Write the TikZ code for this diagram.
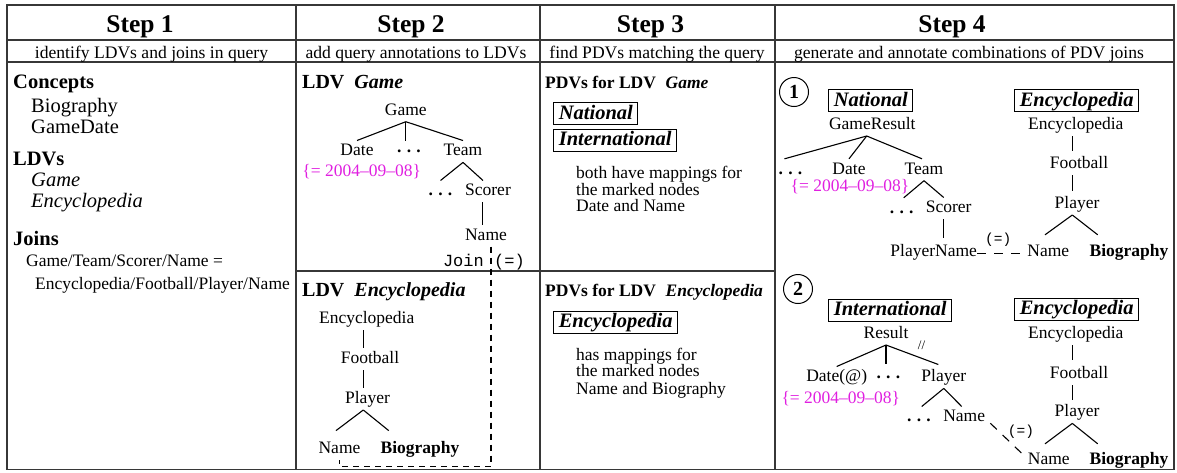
\documentclass[tikz,border=0pt]{standalone}
\usepackage{fontspec}
\setmainfont{Liberation Serif}
\setmonofont{Liberation Mono}
\usetikzlibrary{calc}
\definecolor{annot}{RGB}{224,32,224}
\definecolor{rulegray}{RGB}{55,55,55}
\newcommand{\sizept}[1]{\fontsize{#1}{#1}\selectfont}
\newcommand{\datefix}{\{= 2004\textendash 09\textendash 08\}}
\newcommand{\lowdots}{\textbf{.\hspace{0.3em}.\hspace{0.3em}.}}
\newcommand{\middots}{\raisebox{0.2em}{\lowdots}}

\begin{document}
\begin{tikzpicture}[x=1pt,y=-1pt,
  grid/.style={draw=rulegray, line width=1.3pt},
  title/.style={font=\sizept{25.5}\bfseries, anchor=base, inner sep=0pt},
  sub/.style={font=\sizept{17.6}, anchor=base, inner sep=0pt},
  big/.style={font=\sizept{20.5}, anchor=base west, inner sep=0pt},
  txt/.style={font=\sizept{17.5}, anchor=base west, inner sep=0pt},
  tn/.style={font=\sizept{17.5}, anchor=base, inner xsep=0pt, inner ysep=2pt,
             text height=13pt, text depth=4.5pt},
  tnb/.style={tn, font=\sizept{17.5}\bfseries},
  ann/.style={font=\sizept{17.5}, text=annot, anchor=base, inner sep=0pt},
  pdv/.style={draw=black, line width=1pt, font=\sizept{20.5}\bfseries\itshape,
              inner xsep=5pt, inner ysep=2.5pt, text height=14pt, text depth=3pt, anchor=west},
  num/.style={circle, draw=black, line width=1pt, minimum size=29pt, inner sep=0pt,
              font=\sizept{20}\bfseries},
  edge/.style={line width=1.1pt},
  joinline/.style={line width=1.1pt, dash pattern=on 6pt off 5pt},
  joinlink/.style={line width=1.1pt, dash pattern=on 9pt off 8pt},
  eqlbl/.style={font=\ttfamily\sizept{14.5}, inner sep=0pt},
  mono/.style={font=\ttfamily\sizept{17}, inner sep=0pt},
]
\useasboundingbox (0,0) rectangle (1177,472);

% table frame
\draw[grid] (7,5) rectangle (1174,469.5);
\draw[grid] (7,40) -- (1174,40);
\draw[grid] (7,62) -- (1174,62);
\draw[grid] (296,5) -- (296,469.5);
\draw[grid] (540,5) -- (540,469.5);
\draw[grid] (775,5) -- (775,469.5);
\draw[grid] (296,271) -- (775,271);

% column heads
\node[title] (t1) at (140,32) {Step 1};
\node[title] (t2) at (411,32) {Step 2};
\node[title] (t3) at (650.5,32) {Step 3};
\node[title] (t4) at (952,32) {Step 4};
\node[sub] (u1) at (151.5,58.5) {identify LDVs and joins in query};
\node[sub] (u2) at (416,58.5) {add query annotations to LDVs};
\node[sub] (u3) at (657,58.5) {find PDVs matching the query};
\node[sub] (u4) at (969,58.5) {generate and annotate combinations of PDV joins};

% Step 1
\node[big, font=\sizept{20.5}\bfseries] (c1h) at (13,88) {Concepts};
\node[big] (c1a) at (31,112) {Biography};
\node[big] (c1b) at (31,133) {GameDate};
\node[big, font=\sizept{20.5}\bfseries] (l1h) at (13,165) {LDVs};
\node[big, font=\sizept{20.5}\itshape] (l1a) at (31,186) {Game};
\node[big, font=\sizept{20.5}\itshape] (l1b) at (31,207.5) {Encyclopedia};
\node[big, font=\sizept{20.5}\bfseries] (j1h) at (13,245) {Joins};
\node[txt] (j1a) at (26,266.7) {Game/Team/Scorer/Name =};
\node[txt] (j1b) at (35,289) {Encyclopedia/Football/Player/Name};

% Step 2: LDV Game
\node[big, font=\sizept{20}\bfseries] (h2a) at (302,88) {LDV\hspace{0.5em}\textit{Game}};
\node[tn] (g2game) at (405.8,115) {Game};
\node[tn] (g2date) at (357,155.7) {Date};
\node[tn] (g2dots) at (409,155.7) {\middots};
\node[tn] (g2team) at (463,155.7) {Team};
\node[ann] (g2ann) at (361.7,176.7) {\datefix};
\node[tn] (g2dots2) at (440.5,195.7) {\lowdots};
\node[tn] (g2scorer) at (488,195.7) {Scorer};
\node[tn] (g2name) at (486,240) {Name};
\draw[edge] (g2game.south) -- (g2date.north);
\draw[edge] (g2game.south) -- (g2game.south |- g2dots.north);
\draw[edge] (g2game.south) -- (g2team.north);
\draw[edge] (g2team.south) -- (g2dots2.north);
\draw[edge] (g2team.south) -- ([xshift=-5pt]g2scorer.north);
\draw[edge] ([xshift=-5.3pt]g2scorer.south) -- ([xshift=-5.3pt]g2scorer.south |- g2name.north);

% Step 2: LDV Encyclopedia
\node[big, font=\sizept{20}\bfseries] (h2b) at (302,296.7) {LDV\hspace{0.5em}\textit{Encyclopedia}};
\node[tn] (e2enc) at (366.7,323.3) {Encyclopedia};
\node[tn] (e2foot) at (370,363.3) {Football};
\node[tn] (e2play) at (367.5,403.3) {Player};
\node[tn] (e2name) at (339.5,453.3) {Name};
\node[tnb] (e2bio) at (420,453.3) {Biography};
\draw[edge] ([xshift=-3.4pt]e2enc.south) -- ([xshift=-3.4pt]e2enc.south |- e2foot.north);
\draw[edge] ([xshift=-6.7pt]e2foot.south) -- ([xshift=-6.7pt]e2foot.south |- e2play.north);
\draw[edge] ([xshift=-4.2pt]e2play.south) -- ([xshift=-3.5pt,yshift=7.5pt]e2name.north);
\draw[edge] ([xshift=-4.2pt]e2play.south) -- ([xshift=8.3pt,yshift=7.5pt]e2bio.north west);

% join between the two LDVs
\node[mono, anchor=base east] (joinlbl) at (484,266.5) {Join};
\node[mono, anchor=base west] (joineq) at (494,266.5) {(=)};
\draw[joinline] ([xshift=5pt]g2name.south) |- ([yshift=-6.5pt]e2name.south) -- (e2name.south);

% Step 3
\node[txt, font=\sizept{17.5}\bfseries] (h3a) at (545,88.3) {PDVs for LDV\hspace{0.55em}\textit{Game}};
\node[pdv] (p3nat) at (553.3,113.5) {National};
\node[pdv] (p3int) at (553.3,140) {International};
\node[txt] (d3a) at (576,178.3) {both have mappings for};
\node[txt] (d3b) at (576,195) {the marked nodes};
\node[txt] (d3c) at (576,211.7) {Date and Name};
\node[txt, font=\sizept{17.5}\bfseries] (h3b) at (545,296.7) {PDVs for LDV\hspace{0.55em}\textit{Encyclopedia}};
\node[pdv] (p3enc) at (553.3,322.2) {Encyclopedia};
\node[txt] (d3d) at (576,360) {has mappings for};
\node[txt] (d3e) at (576,376.7) {the marked nodes};
\node[txt] (d3f) at (576,394.3) {Name and Biography};

% Step 4, combination 1
\node[num] (n1) at (794,92) {1};
\node[pdv] (p1nat) at (828.3,100.5) {National};
\node[pdv] (p1enc) at (1014.3,100.5) {Encyclopedia};
\node[tn] (s1gr) at (872.3,129.3) {GameResult};
\node[tn] (s1dots) at (790.5,174) {\lowdots};
\node[tn] (s1date) at (849,174) {Date};
\node[tn] (s1team) at (924,174) {Team};
\node[ann] (s1ann) at (850,191.7) {\datefix};
\node[tn] (s1dots2) at (901.7,213) {\lowdots};
\node[tn] (s1scorer) at (948.7,212.7) {Scorer};
\node[tn] (s1pname) at (933.7,256.7) {PlayerName};
\draw[edge] ([xshift=-5.6pt]s1gr.south) -- ([xshift=-6pt]s1dots.north);
\draw[edge] ([xshift=-5.6pt]s1gr.south) -- (s1date.north);
\draw[edge] ([xshift=-5.6pt]s1gr.south) -- ([xshift=-2pt]s1team.north);
\draw[edge] (s1team.south) -- ([xshift=2pt]s1dots2.north);
\draw[edge] (s1team.south) -- ([xshift=-5pt]s1scorer.north);
\draw[edge] ([xshift=-5.4pt]s1scorer.south) -- ([xshift=-5.4pt,yshift=4pt]s1scorer.south |- s1pname.north);

\node[tn] (s1enc) at (1075.8,129.3) {Encyclopedia};
\node[tn] (s1foot) at (1079,168.3) {Football};
\node[tn] (s1play) at (1077,208.3) {Player};
\node[tn] (s1name) at (1048.3,256.7) {Name};
\node[tnb] (s1bio) at (1129,256.7) {Biography};
\draw[edge] ([xshift=-3.5pt]s1enc.south) -- ([xshift=-3.5pt,yshift=2pt]s1enc.south |- s1foot.north);
\draw[edge] ([xshift=-6.7pt]s1foot.south) -- ([xshift=-6.7pt,yshift=2pt]s1foot.south |- s1play.north);
\draw[edge] ([xshift=-4.7pt]s1play.south) -- ([xshift=-3.3pt,yshift=6.7pt]s1name.north);
\draw[edge] ([xshift=-4.7pt]s1play.south) -- ([xshift=8.3pt,yshift=6.7pt]s1bio.north west);
\draw[joinlink] ([yshift=3.5pt]s1pname.base east) --
  node[eqlbl, xshift=-4pt, yshift=13pt] (s1eq) {(=)} ([yshift=3.5pt]s1name.base west);

% Step 4, combination 2
\node[num] (n2) at (798,289) {2};
\node[pdv] (p2int) at (828.3,310) {International};
\node[pdv] (p2enc) at (1014.3,309.2) {Encyclopedia};
\node[tn] (s2res) at (886,338.3) {Result};
\node[tn] (s2date) at (836.7,381.7) {Date(@)};
\node[tn] (s2dots) at (888.3,381.7) {\middots};
\node[tn] (s2play) at (943.8,381.7) {Player};
\node[ann] (s2ann) at (840.8,403.3) {\datefix};
\node[tn] (s2dots2) at (919,421.7) {\lowdots};
\node[tn] (s2pname) at (964.2,421.7) {Name};
\draw[edge] (s2res.south) -- (s2date.north);
\draw[edge] (s2res.south) -- ([yshift=3pt]s2res.south |- s2dots.north);
\draw[edge] (s2res.south) -- node[pos=0.68, yshift=13pt, font=\sizept{13}, inner sep=0pt] (s2desc) {//}
  ([xshift=-5.5pt,yshift=2pt]s2play.north);
\draw[edge] (s2play.south) -- ([xshift=2.7pt]s2dots2.north);
\draw[edge] (s2play.south) -- ([xshift=-2.5pt]s2pname.north);

\node[tn] (s2enc) at (1075.8,338.3) {Encyclopedia};
\node[tn] (s2foot) at (1079,378.3) {Football};
\node[tn] (s2eplay) at (1077,416.7) {Player};
\node[tn] (s2name) at (1048.8,464) {Name};
\node[tnb] (s2bio) at (1129,464) {Biography};
\draw[edge] ([xshift=-3.5pt]s2enc.south) -- ([xshift=-3.5pt,yshift=3pt]s2enc.south |- s2foot.north);
\draw[edge] ([xshift=-6.7pt]s2foot.south) -- ([xshift=-6.7pt,yshift=2pt]s2foot.south |- s2eplay.north);
\draw[edge] ([xshift=-4.7pt]s2eplay.south) -- ([xshift=-3.8pt,yshift=5pt]s2name.north);
\draw[edge] ([xshift=-4.7pt]s2eplay.south) -- ([xshift=8.3pt,yshift=5pt]s2bio.north west);
\draw[joinlink] ([xshift=5pt,yshift=-1.5pt]s2pname.base east) --
  node[eqlbl, xshift=15pt, yshift=7pt] (s2eq) {(=)} ([xshift=-6pt,yshift=10.7pt]s2name.base west);

\end{tikzpicture}
\end{document}
